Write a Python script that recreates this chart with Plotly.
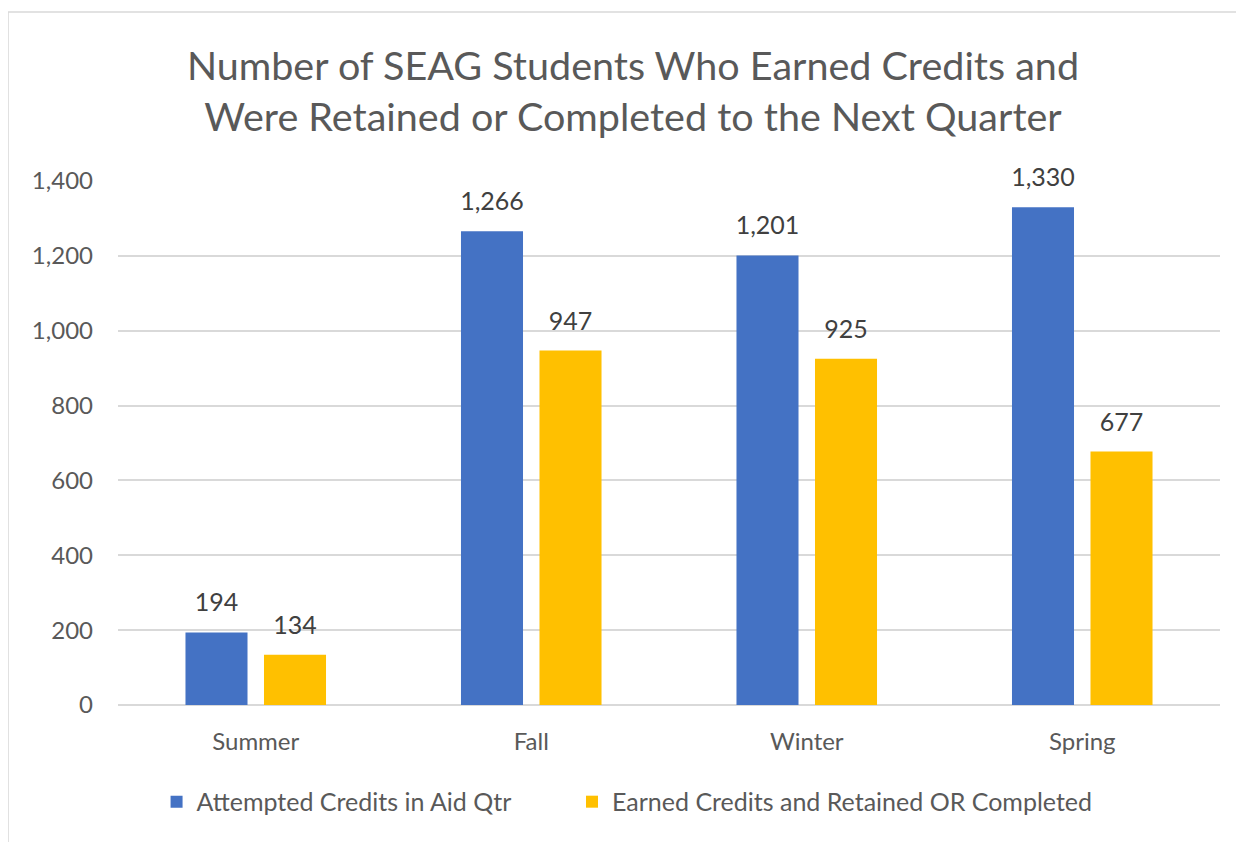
import plotly.graph_objects as go

categories = ["Summer", "Fall", "Winter", "Spring"]
attempted = [194, 1266, 1201, 1330]
earned = [134, 947, 925, 677]
series_names = ["Attempted Credits in Aid Qtr", "Earned Credits and Retained OR Completed"]
colors = ["#4472C4", "#FFC000"]
y_ticks = [0, 200, 400, 600, 800, 1000, 1200, 1400]

FONT = "Lato, Carlito, Calibri, sans-serif"
BARGAP = 0.43

fig = go.Figure()
for name, vals, col, grp, lg in zip(series_names, [attempted, earned], colors, ["a", "b"], ["legend", "legend2"]):
    fig.add_trace(go.Bar(
        x=categories, y=vals, name=name, marker=dict(color=col, line=dict(width=0)),
        offsetgroup=grp, hoverinfo="skip", legend=lg,
    ))
for vals, grp in zip([attempted, earned], ["a", "b"]):
    fig.add_trace(go.Scatter(
        x=categories, y=vals, mode="markers+text", offsetgroup=grp,
        marker=dict(size=22, opacity=0), text=[f"{v:,}" for v in vals],
        textposition="top center", textfont=dict(family=FONT, size=25, color="#404040"),
        showlegend=False, hoverinfo="skip", cliponaxis=False,
    ))

legend_common = dict(
    orientation="h", xanchor="left", y=-0.185, yanchor="middle",
    font=dict(family=FONT, size=25, color="#595959"), itemwidth=30, bgcolor="rgba(0,0,0,0)",
)
fig.update_layout(
    width=1244, height=842,
    paper_bgcolor="white", plot_bgcolor="white",
    margin=dict(l=110, r=32, t=173, b=145),
    barmode="group", bargap=BARGAP, bargroupgap=0.21,
    scattermode="group", scattergap=BARGAP,
    title=dict(
        text="Number of SEAG Students Who Earned Credits and<br>Were Retained or Completed to the Next Quarter",
        xref="container", x=0.5024, xanchor="center", y=0.915, yanchor="middle",
        font=dict(family=FONT, size=39.5, color="#595959"),
    ),
    font=dict(family=FONT, color="#595959"),
    legend=dict(x=0.035, **legend_common),
    legend2=dict(x=0.412, **legend_common),
    showlegend=True,
)
fig.update_xaxes(
    showgrid=False, showline=False, ticks="", tickfont=dict(family=FONT, size=24, color="#595959"),
    ticklabelstandoff=20,
)
fig.update_yaxes(
    range=[0, 1400], tickvals=y_ticks, tickformat=",", showgrid=True, gridcolor="#D9D9D9", gridwidth=1.5,
    zeroline=True, zerolinecolor="#D9D9D9", zerolinewidth=1.5, showline=False, ticks="",
    tickfont=dict(family=FONT, size=24, color="#595959"), ticklabelstandoff=24,
)
# chart border
fig.add_shape(type="rect", xref="paper", yref="paper", x0=-0.0998, x1=1.2, y0=-0.3, y1=1.3225,
              line=dict(color="#D9D9D9", width=1.5), fillcolor="rgba(0,0,0,0)", layer="below")

fig.write_html("out.html")
